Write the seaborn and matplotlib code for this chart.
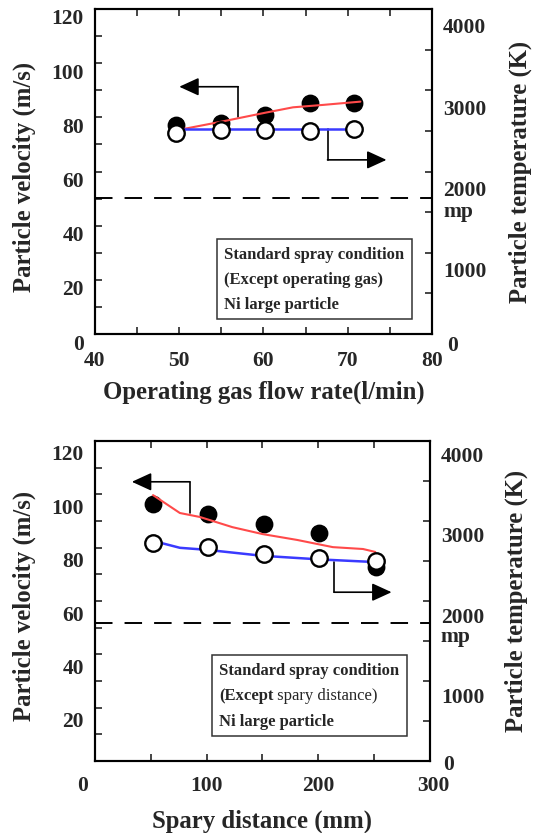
import matplotlib
matplotlib.use("Agg")
import matplotlib.pyplot as plt
import matplotlib.transforms as mtransforms
from matplotlib.patches import Rectangle
from matplotlib.ticker import MultipleLocator, FixedLocator
import seaborn as sns

# %% data
# top: operating gas flow rate (l/min)
flow_pts = [49.6, 55.0, 60.2, 65.5, 70.8]
flow_vel = [77.0, 78.0, 80.9, 85.2, 85.2]
flow_temp = [2470, 2510, 2510, 2500, 2520]
flow_vel_line_x = [50.5, 55.0, 60.2, 63.5, 67.1, 71.5]
flow_vel_line = [75.7, 78.4, 81.7, 83.7, 84.6, 85.8]
flow_temp_line_x = [49.6, 55.0, 60.2, 65.5, 70.8]
flow_temp_line = [2525, 2525, 2525, 2525, 2525]
mp_top = 1680

# bottom: spray distance (mm)
dist_pts = [51.6, 101.4, 151.3, 200.8, 251.6]
dist_vel = [96.3, 92.5, 88.8, 85.6, 72.9]
dist_temp = [2730, 2670, 2585, 2540, 2500]
dist_vel_line_x = [52, 76, 94, 123, 150, 181, 213, 240, 251]
dist_vel_line = [99.7, 93.0, 91.5, 87.7, 85.1, 82.9, 80.2, 79.5, 78.4]
dist_temp_line_x = [51.6, 58, 76, 100, 150, 201, 246]
dist_temp_line = [2745, 2730, 2665, 2640, 2565, 2520, 2490]
mp_bot = 1730

# tick labels
flow_xticks = [40, 50, 60, 70, 80]
dist_xticks = [0, 100, 200, 300]
vel_ticks_top = [0, 20, 40, 60, 80, 100, 120]
vel_ticks_bot = [20, 40, 60, 80, 100, 120]
temp_ticks = [0, 1000, 2000, 3000, 4000]

# guide arrows (x of vertical, y start, y corner, x tip) in velocity units
flow_arrows = [(57.0, 80.2, 91.3, 50.0), (67.6, 75.6, 64.3, 74.6)]
dist_arrows = [(85, 93.0, 104.7, 33), (214, 74.7, 63.3, 265.6)]

# %% style
sns.set_style("ticks", {"xtick.direction": "in", "ytick.direction": "in"})
plt.rcParams["font.family"] = ["Liberation Serif", "DejaVu Serif"]
plt.rcParams["font.weight"] = "bold"
plt.rcParams["axes.labelweight"] = "bold"
plt.rcParams["axes.linewidth"] = 1.5
plt.rcParams["axes.edgecolor"] = "black"

RED = "#ff4a4a"
BLUE = "#3a3aff"
TICK_FS = 15.5
LABEL_FS = 17.8
BOX_FS = 12

fig = plt.figure(figsize=(5.41, 8.33), dpi=100)
ax_top = fig.add_axes([0.1756, 0.599, 0.6229, 0.3902])
ax_bot = fig.add_axes([0.1756, 0.0864, 0.6192, 0.3842])


def shift_labels(axis, dx, dy, special=None):
    special = special or {}
    for i, t in enumerate(axis.get_major_ticks()):
        ddx, ddy = special.get(i, (dx, dy))
        off = mtransforms.ScaledTranslation(ddx / 100, -ddy / 100, fig.dpi_scale_trans)
        t.label1.set_transform(t.label1.get_transform() + off)
        t.label2.set_transform(t.label2.get_transform() + off)


def panel(ax, xs, vel, temp, vx, vy, tx, ty, mp, arrows, xlim, xticks, xmin,
          yticks, xlabel, box, box_lines, mp_xy, lay):
    ax2 = ax.twinx()
    ax.set_xlim(*xlim)
    ax.set_ylim(0, 120)
    ax2.set_ylim(0, 4000)

    # velocity: filled circles + red curve
    sns.scatterplot(x=xs, y=vel, ax=ax, color="black", s=140,
                    edgecolor="black", linewidth=1, zorder=3)
    sns.lineplot(x=vx, y=vy, ax=ax, color=RED, lw=1.5, sort=False,
                 estimator=None, zorder=4)
    # temperature: open circles + blue curve
    sns.lineplot(x=tx, y=ty, ax=ax2, color=BLUE, lw=1.8, sort=False,
                 estimator=None, zorder=2)
    sns.scatterplot(x=xs, y=temp, ax=ax2, color="white", s=140,
                    edgecolor="black", linewidth=1.7, zorder=3)
    ax2.axhline(mp, color="black", lw=1.4, dashes=(9, 6.2), zorder=1)

    for xv, y0, y1, xt in arrows:
        ax.plot([xv, xv], [y0, y1], color="black", lw=1.2)
        ax.annotate("", xy=(xt, y1), xytext=(xv, y1),
                    arrowprops=dict(arrowstyle="-|>,head_length=1.2,head_width=0.55",
                                    color="black", lw=1.2, shrinkA=0, shrinkB=0))

    # ticks
    ax.xaxis.set_major_locator(FixedLocator(xticks))
    ax.xaxis.set_minor_locator(MultipleLocator(xmin))
    ax.yaxis.set_major_locator(FixedLocator(yticks))
    ax.yaxis.set_minor_locator(MultipleLocator(10))
    ax2.yaxis.set_major_locator(FixedLocator(temp_ticks))
    ax2.yaxis.set_minor_locator(MultipleLocator(500))
    ax.tick_params(axis="x", which="both", top=True, length=5, width=1.2,
                   labelsize=TICK_FS, pad=lay["xpad"])
    ax.tick_params(axis="y", which="both", left=True, right=False, length=5,
                   width=1.2, labelsize=TICK_FS, pad=8)
    ax2.tick_params(axis="y", which="both", right=True, left=False, length=5,
                    width=1.2, labelsize=TICK_FS, pad=8)
    for a in (ax, ax2):
        for sp in a.spines.values():
            sp.set_visible(True)
            sp.set_linewidth(1.5)

    ax.set_xlabel(xlabel, fontsize=LABEL_FS)
    ax.set_ylabel("Particle velocity (m/s)", fontsize=LABEL_FS)
    ax2.set_ylabel("Particle temperature (K)", fontsize=LABEL_FS)
    ax.xaxis.set_label_coords(0.5, lay["xlab"])
    ax.yaxis.set_label_coords(lay["ylab"], 0.484)
    ax2.yaxis.set_label_coords(lay["y2lab"], 0.5)

    # condition box
    x0, y0, x1, y1 = box
    ax.add_patch(Rectangle((x0, y0), x1 - x0, y1 - y0, transform=ax.transAxes,
                           facecolor="white", edgecolor="#333333", lw=1.1, zorder=5))
    tx0, ys = box_lines
    for yy, s in zip(ys, ["Standard spray condition", None, "Ni large particle"]):
        if s:
            ax.text(tx0, yy, s, transform=ax.transAxes, fontsize=BOX_FS,
                    va="center", ha="left", zorder=6)
    ax.text(mp_xy[0], mp_xy[1], "mp", transform=ax.transAxes, fontsize=TICK_FS,
            va="center", ha="left")

    shift_labels(ax.yaxis, 0, lay["dy_left"])
    shift_labels(ax2.yaxis, 0, lay["dy_right"], lay.get("right_special"))
    shift_labels(ax.xaxis, 0, 0, lay.get("x_special"))
    return ax2, ys, tx0


# top panel
ax2_top, ys_t, tx_t = panel(
    ax_top, flow_pts, flow_vel, flow_temp, flow_vel_line_x, flow_vel_line,
    flow_temp_line_x, flow_temp_line, mp_top, flow_arrows, (40, 80), flow_xticks, 5,
    vel_ticks_top, "Operating gas flow rate(l/min)",
    (0.362, 0.046, 0.941, 0.292), (0.383, [0.243, 0.166, 0.089]),
    (1.033, 0.375),
    dict(dy_left=8, dy_right=17, right_special={0: (4, 9)}, xpad=12,
         xlab=-0.142, ylab=-0.175, y2lab=1.228))
ax_top.text(tx_t, ys_t[1], "(Except operating gas)", transform=ax_top.transAxes,
            fontsize=BOX_FS, va="center", ha="left", zorder=6)

# bottom panel
ax2_bot, ys_b, tx_b = panel(
    ax_bot, dist_pts, dist_vel, dist_temp, dist_vel_line_x, dist_vel_line,
    dist_temp_line_x, dist_temp_line, mp_bot, dist_arrows, (0, 300), dist_xticks, 50,
    vel_ticks_bot, "Spary distance (mm)",
    (0.349, 0.078, 0.931, 0.331), (0.370, [0.281, 0.203, 0.122]),
    (1.030, 0.3875),
    dict(dy_left=12, dy_right=14, right_special={0: (2, 1)},
         x_special={0: (-12, 0), 3: (3, 0)}, xpad=11,
         xlab=-0.152, ylab=-0.176, y2lab=1.224))
t1 = ax_bot.text(tx_b, ys_b[1], "(Except", transform=ax_bot.transAxes,
                 fontsize=BOX_FS, va="center", ha="left", zorder=6)
ax_bot.annotate(" spary distance)", xy=(1, 0.5), xycoords=t1, va="center",
                ha="left", fontsize=BOX_FS, fontweight="normal", zorder=6)

fig.savefig("out.png", dpi=100)
